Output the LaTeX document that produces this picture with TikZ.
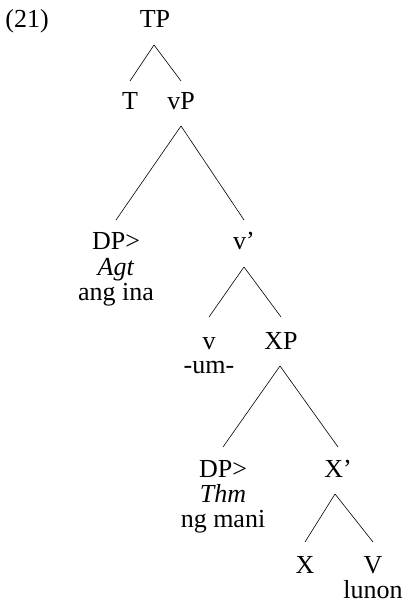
\documentclass[tikz,border=0pt]{standalone}
\usepackage{fontspec}
\setmainfont{Liberation Serif}
\begin{document}
\begin{tikzpicture}[x=1pt,y=-1pt,
  lbl/.style={inner sep=0pt,anchor=base,font=\fontsize{26}{30}\selectfont},
  br/.style={line width=0.6pt}]
\useasboundingbox (0,0) rectangle (404,609);
% labels
\node[lbl] (ex) at (27,28) {(21)};
\node[lbl] (TP) at (155,28) {TP};
\node[lbl] (T) at (130,110) {T};
\node[lbl] (vP) at (181,110) {vP};
\node[lbl] (DPa) at (116,250) {DP>};
\node[lbl] (Agt) at (116,275) {\textit{Agt}};
\node[lbl] (ina) at (116,300) {ang ina};
\node[lbl] (vbar) at (244,250) {v’};
\node[lbl] (v) at (209,349) {v};
\node[lbl] (um) at (209,373) {-um-};
\node[lbl] (XP) at (281,349) {XP};
\node[lbl] (DPb) at (223,477) {DP>};
\node[lbl] (Thm) at (223,502) {\textit{Thm}};
\node[lbl] (mani) at (223,527) {ng mani};
\node[lbl] (Xbar) at (338,477) {X’};
\node[lbl] (X) at (305,573) {X};
\node[lbl] (V) at (373,573) {V};
\node[lbl] (lunon) at (373,598) {lunon};
% branches
\draw[br] ([yshift=-17pt,xshift=-1pt]TP.base) -- ([yshift=29pt]T.base);
\draw[br] ([yshift=-17pt,xshift=-1pt]TP.base) -- ([yshift=29pt]vP.base);
\draw[br] ([yshift=-16pt]vP.base) -- ([yshift=30pt]DPa.base);
\draw[br] ([yshift=-16pt]vP.base) -- ([yshift=30pt]vbar.base);
\draw[br] ([yshift=-17pt]vbar.base) -- ([yshift=32pt]v.base);
\draw[br] ([yshift=-17pt]vbar.base) -- ([yshift=32pt]XP.base);
\draw[br] ([yshift=-17pt,xshift=-1pt]XP.base) -- ([yshift=30pt]DPb.base);
\draw[br] ([yshift=-17pt,xshift=-1pt]XP.base) -- ([yshift=30pt]Xbar.base);
\draw[br] ([yshift=-17pt,xshift=-3pt]Xbar.base) -- ([yshift=31pt]X.base);
\draw[br] ([yshift=-17pt,xshift=-3pt]Xbar.base) -- ([yshift=31pt]V.base);
\end{tikzpicture}
\end{document}
